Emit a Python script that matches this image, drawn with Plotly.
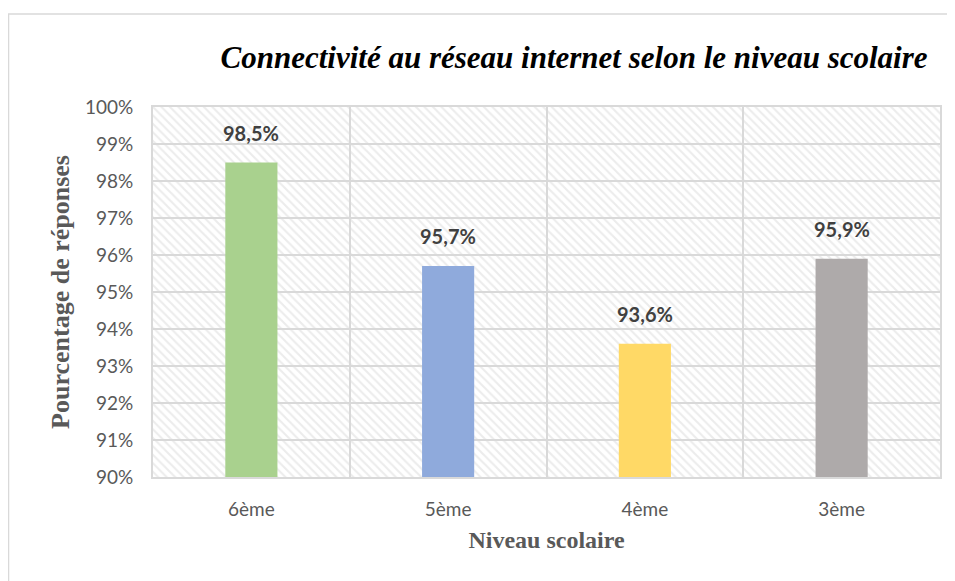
import plotly.graph_objects as go

# data
niveaux = ["6ème", "5ème", "4ème", "3ème"]
pourcentages = [0.985, 0.957, 0.936, 0.959]
couleurs = ["#a9d18e", "#8faadc", "#ffd966", "#aeaaaa"]
Y_MIN, Y_MAX = 0.90, 1.00

SERIF = "Liberation Serif, Times New Roman, serif"
SANS = "Lato, Open Sans, sans-serif"
GRID = "#d9d9d9"

fig = go.Figure()

# hatched plot-area background (transparent so the gridlines stay visible)
fig.add_trace(go.Bar(
    x=niveaux, y=[Y_MAX - Y_MIN] * len(niveaux), base=Y_MIN, width=1,
    marker=dict(color="rgba(0,0,0,0)", line=dict(width=0),
                pattern=dict(shape="\\", fgcolor=GRID, bgcolor="rgba(0,0,0,0)",
                             size=6, solidity=0.35, fillmode="overlay")),
    hoverinfo="skip", showlegend=False,
))

fig.add_trace(go.Bar(
    x=niveaux, y=[v - Y_MIN for v in pourcentages], base=Y_MIN, width=0.265,
    marker=dict(color=couleurs, line=dict(width=0)),
    showlegend=False,
))

for n, v in zip(niveaux, pourcentages):
    fig.add_annotation(x=n, y=v, text=f"<b>{v*100:.1f}%</b>".replace(".", ","),
                       showarrow=False, yanchor="bottom", yshift=16,
                       font=dict(family=SANS, size=20, color="#404040"))

fig.update_layout(
    width=947, height=573,
    barmode="overlay",
    paper_bgcolor="white", plot_bgcolor="white",
    margin=dict(l=145, r=15, t=99, b=104),
    title=dict(text="<b><i>Connectivité au réseau internet selon le niveau scolaire</i></b>",
               font=dict(family=SERIF, size=31, color="black"),
               xref="paper", x=0.535, xanchor="center", y=0.914, yanchor="middle"),
    xaxis=dict(
        title=dict(text="<b>Niveau scolaire</b>", font=dict(family=SERIF, size=24, color="#595959"),
                   standoff=12),
        tickfont=dict(family=SANS, size=19, color="#595959"),
        tickson="boundaries", showgrid=True, gridcolor=GRID, gridwidth=1.5,
        showline=True, linecolor=GRID, linewidth=2, mirror=True, ticks="", ticklabelstandoff=14,
    ),
    yaxis=dict(
        title=dict(text="<b>Pourcentage de réponses</b>", font=dict(family=SERIF, size=26, color="#595959"),
                   standoff=8),
        range=[Y_MIN, Y_MAX], dtick=0.01, tickformat=".0%",
        tickfont=dict(family=SANS, size=19, color="#595959"),
        showgrid=True, gridcolor=GRID, gridwidth=1.5,
        showline=True, linecolor=GRID, linewidth=2, mirror=True, ticks="", ticklabelstandoff=14,
    ),
    separators=", ",
    shapes=[dict(type="rect", xref="paper", yref="paper",
                 x0=-0.1836, x1=1.05, y0=-0.3, y1=1.2514,
                 line=dict(color=GRID, width=1.5), layer="below")],
)

fig.write_html("out.html")
